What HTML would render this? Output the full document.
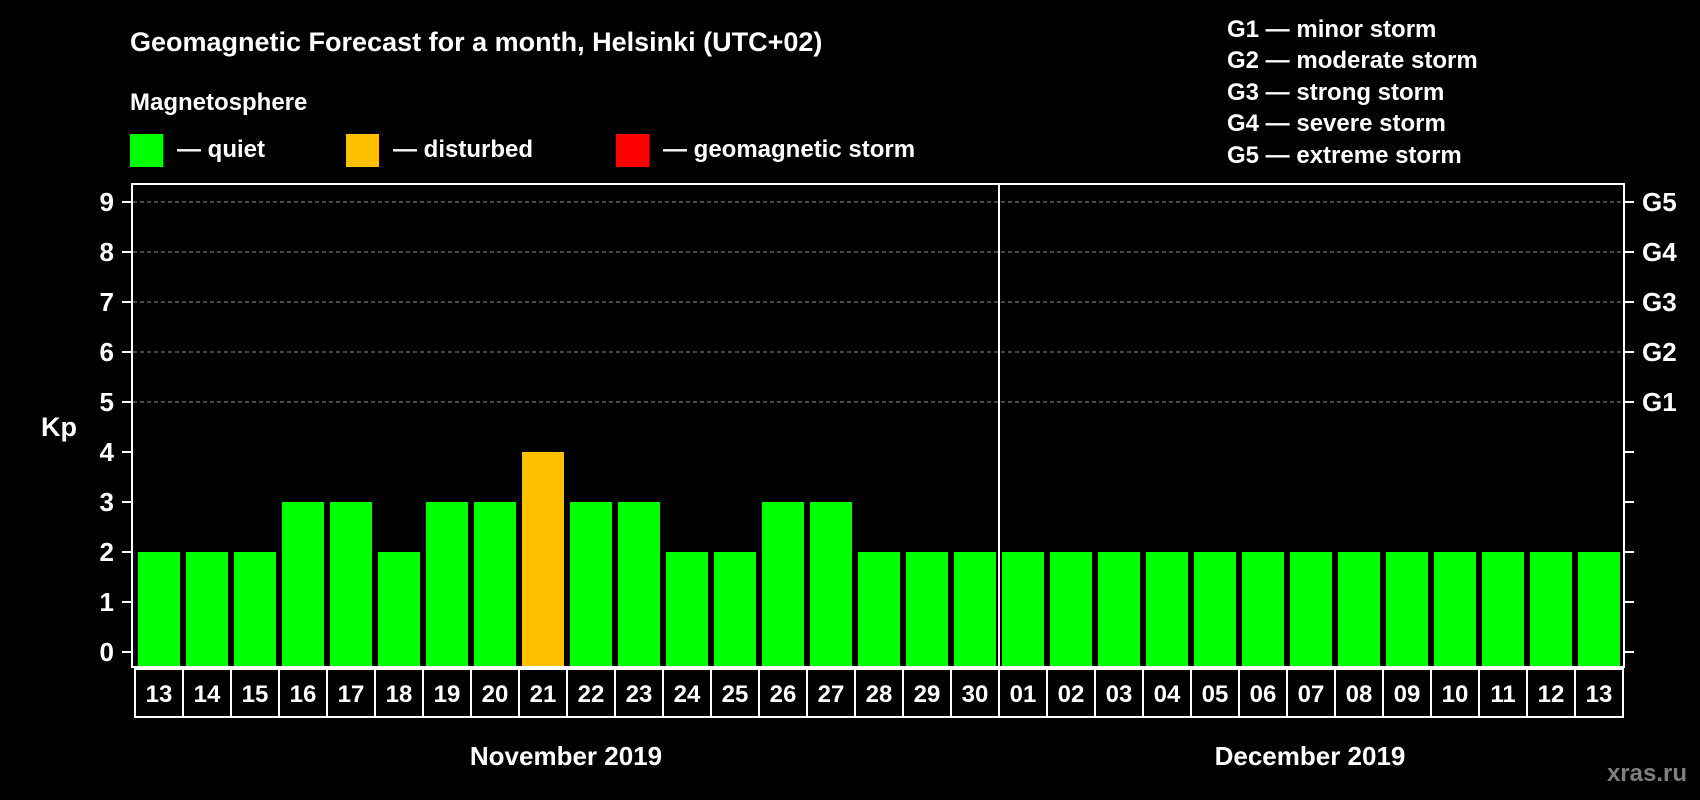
<!DOCTYPE html>
<html><head><meta charset="utf-8"><style>
html,body{margin:0;padding:0;background:#000;}
svg{display:block;font-family:"Liberation Sans",Arial,sans-serif;font-weight:bold;}
</style></head><body>
<svg id="chart" width="1700" height="800" viewBox="0 0 1700 800">
<rect x="0" y="0" width="1700" height="800" fill="#000"/>
<text x="130" y="51" font-size="27" fill="#fff">Geomagnetic Forecast for a month, Helsinki (UTC+02)</text>
<text x="130" y="110" font-size="24" fill="#fff">Magnetosphere</text>
<g>
<rect x="130" y="134" width="33" height="33" fill="#00ff00"/>
<text x="177" y="157" font-size="24" fill="#fff">— quiet</text></g>
<g>
<rect x="346" y="134" width="33" height="33" fill="#ffc000"/>
<text x="393" y="157" font-size="24" fill="#fff">— disturbed</text></g>
<g>
<rect x="616" y="134" width="33" height="33" fill="#ff0000"/>
<text x="663" y="157" font-size="24" fill="#fff">— geomagnetic storm</text></g>
<g font-size="24" fill="#fff">
<text x="1227" y="37">G1 — minor storm</text>
<text x="1227" y="68">G2 — moderate storm</text>
<text x="1227" y="100">G3 — strong storm</text>
<text x="1227" y="131">G4 — severe storm</text>
<text x="1227" y="163">G5 — extreme storm</text>
</g>
<text x="41" y="436" font-size="27" fill="#fff">Kp</text>
<g id="grid"></g>
<g id="bars"></g>
<rect x="132" y="184" width="1492" height="483" fill="none" stroke="#fff" stroke-width="2"/>
<g id="axes"></g>
<g id="days"></g>
<text x="566" y="765" font-size="26" fill="#fff" text-anchor="middle">November 2019</text>
<text x="1310" y="765" font-size="26" fill="#fff" text-anchor="middle">December 2019</text>
<text x="1687" y="781" font-size="24" fill="#7f7f7f" text-anchor="end">xras.ru</text>
</svg>
<script>
const days = ["13","14","15","16","17","18","19","20","21","22","23","24","25","26","27","28","29","30","01","02","03","04","05","06","07","08","09","10","11","12","13"];
const kpValues = [2,2,2,3,3,2,3,3,4,3,3,2,2,3,3,2,2,2,2,2,2,2,2,2,2,2,2,2,2,2,2];
const kpTicks = [0,1,2,3,4,5,6,7,8,9];
const stormLabels = ["G1","G2","G3","G4","G5"];
const stormLevels = [5,6,7,8,9];
const monthSplit = 18;

const NS = "http://www.w3.org/2000/svg";
function y(v){ return 652 - v*50; }
function xSlot(i){ return 135 + i*48; }
function mk(tag, attrs, parent){
  const e = document.createElementNS(NS, tag);
  for (const k in attrs) e.setAttribute(k, attrs[k]);
  parent.appendChild(e); return e;
}
const grid = document.getElementById('grid');
const bars = document.getElementById('bars');
const axes = document.getElementById('axes');
const daysG = document.getElementById('days');

stormLevels.forEach((lv, i) => {
  const l = mk('line', {x1:133, x2:1623, y1:y(lv), y2:y(lv), stroke:'#8c8c8c', 'stroke-width':1, 'stroke-dasharray':'4,3'}, grid);
  
  
  const t = mk('text', {x:1642, y:y(lv)+9, 'font-size':26, fill:'#fff'}, axes);
  t.textContent = stormLabels[i];
  
  
});

kpTicks.forEach(v => {
  const tl = mk('line', {x1:122, x2:132, y1:y(v), y2:y(v), stroke:'#fff', 'stroke-width':2}, axes);
  
  
  const tr = mk('line', {x1:1624, x2:1634, y1:y(v), y2:y(v), stroke:'#fff', 'stroke-width':2}, axes);
  
  
  const t = mk('text', {x:114, y:y(v)+9, 'font-size':26, fill:'#fff', 'text-anchor':'end'}, axes);
  t.textContent = String(v);
  
  
});

kpValues.forEach((v, i) => {
  const col = v >= 5 ? '#ff0000' : (v >= 4 ? '#ffc000' : '#00ff00');
  const r = mk('rect', {x:xSlot(i)+3, y:y(v), width:42, height:666 - y(v), fill:col}, bars);
  
  
});

const div = mk('line', {x1:xSlot(monthSplit), x2:xSlot(monthSplit), y1:184, y2:666, stroke:'#fff', 'stroke-width':2}, axes);



days.forEach((d, i) => {
  const b = mk('rect', {x:xSlot(i), y:669, width:48, height:48, fill:'none', stroke:'#fff', 'stroke-width':2}, daysG);
  
  
  const t = mk('text', {x:xSlot(i)+24, y:702, 'font-size':24, fill:'#fff', 'text-anchor':'middle'}, daysG);
  t.textContent = d;
  
  
});
</script>
</body></html>
